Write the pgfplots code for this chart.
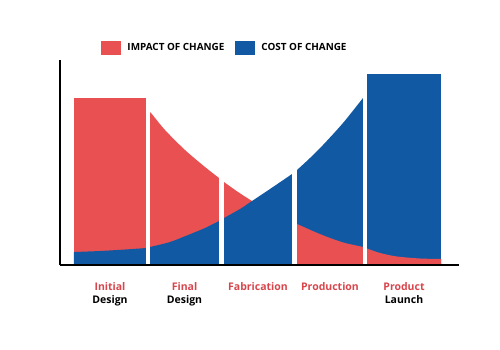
\documentclass[border=0pt]{standalone}
\usepackage{fontspec}
\setmainfont{Open Sans}
\usepackage{pgfplots}
\pgfplotsset{compat=1.18}
\definecolor{cred}{RGB}{233,80,82}
\definecolor{cblue}{RGB}{17,90,163}
\definecolor{lred}{RGB}{216,70,76}
\begin{document}
\begin{tikzpicture}
\begin{axis}[
  scale only axis, width=399pt, height=205pt,
  xmin=60, xmax=459, ymin=0, ymax=205,
  axis x line=bottom, axis y line=left,
  axis line style={line width=1.7pt, -},
  axis on top,
  ytick=\empty,
  xtick={110,184.5,258,330,404},
  xticklabels={{\textcolor{lred}{Initial}\\Design},{\textcolor{lred}{Final}\\Design},{\textcolor{lred}{Fabrication}},{\textcolor{lred}{Production}},{\textcolor{lred}{Product}\\Launch}},
  major tick length=0pt,
  xticklabel style={align=center, font=\bfseries\fontsize{10.5}{12.5}\selectfont, yshift=-14pt},
  clip=false,
  legend columns=2,
  legend style={draw=none, fill=none, at={(axis cs:225,217)}, anchor=center,
    font=\bfseries\fontsize{9.9}{11}\selectfont,
    /tikz/every even column/.append style={column sep=9pt}},
]
\addlegendimage{legend image code/.code={\fill[cred, draw=none] (0pt,-7pt) rectangle (20pt,7pt); \path[draw=none, fill=none] (0pt,0pt) rectangle (24pt,0pt);}}
\addlegendentry{IMPACT OF CHANGE}
\addlegendimage{legend image code/.code={\fill[cblue, draw=none] (0pt,-7pt) rectangle (20pt,7pt); \path[draw=none, fill=none] (0pt,0pt) rectangle (24pt,0pt);}}
\addlegendentry{COST OF CHANGE}
% impact of change (red)
\addplot[fill=cred, draw=none, forget plot] coordinates {(74,167)(148,167)} \closedcycle;
\addplot[fill=cred, draw=none, smooth, forget plot] coordinates {(148,154)(151,152)(165,135)(185,115)(205,98)(219,87)(224,83)(238,73)(252,64)(270,53)(292,43)(297,41)(315,33)(330,27)(345,22)(363,18)(367,16.5)(380,12)(397,8.5)(420,6.5)(441,6)} \closedcycle;
% cost of change (blue)
\addplot[fill=cblue, draw=none, smooth, forget plot] coordinates {(74,13)(100,14)(125,15.5)(146,17)(150,18)(170,23)(188,30)(205,37)(219,44)(224,47)(240,56)(252,64)(270,76)(292,91)(297,95)(310,107)(323,120)(343,142)(363,167)(365,169.5)} \closedcycle;
\addplot[fill=cblue, draw=none, forget plot] coordinates {(365,191)(441,191)} \closedcycle;
% impact of change drawn over cost in the last two stages
\addplot[fill=cred, draw=none, smooth, forget plot] coordinates {(294.5,42)(297,41)(315,33)(330,27)(345,22)(363,18)(367,16.5)(380,12)(397,8.5)(420,6.5)(441,6)} \closedcycle;
% white gaps between stages
\addplot[ycomb, draw=white, line width=4.3pt, mark=none, forget plot] coordinates {(148.3,206)(221.5,206)(294.5,206)(365,206)};
\path (axis cs:0,-85) rectangle (axis cs:500,265);
\end{axis}
\end{tikzpicture}
\end{document}
